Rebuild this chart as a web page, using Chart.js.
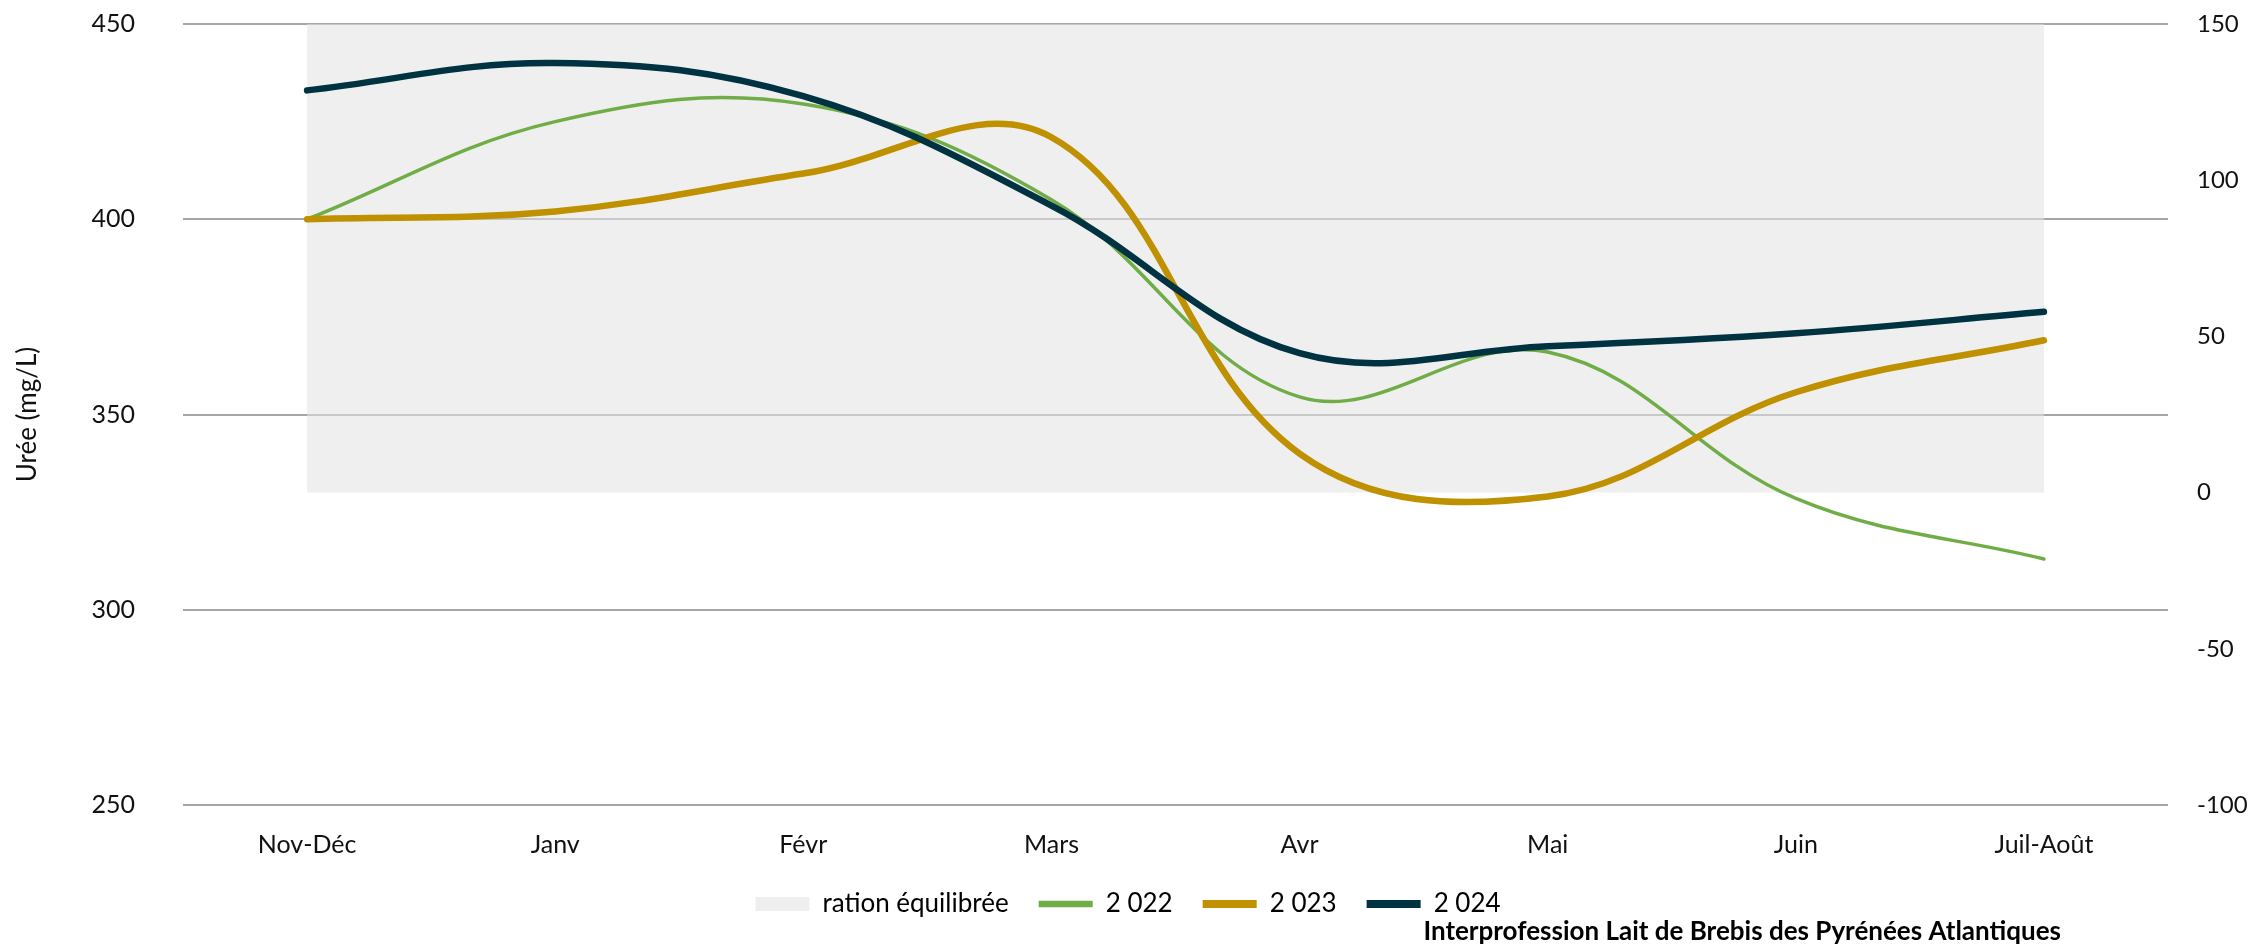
<!DOCTYPE html>
<html>
<head>
<meta charset="utf-8">
<script src="https://cdn.jsdelivr.net/npm/chart.js@4/dist/chart.umd.min.js"></script>
<style>
  html, body { margin: 0; padding: 0; background: #fff; }
  #wrap { width: 2256px; height: 946px; }
</style>
</head>
<body>
<div id="wrap"><canvas id="chart" width="2256" height="946"></canvas></div>
<script>
const MONTHS = ['Nov-Déc', 'Janv', 'Févr', 'Mars', 'Avr', 'Mai', 'Juin', 'Juil-Août'];
const UREE_2022 = [400, 425, 429.5, 405, 354.5, 366, 328.5, 313];
const UREE_2023 = [400, 402, 411.7, 421, 340, 329, 355.7, 369];
const UREE_2024 = [433, 440, 431.5, 403.5, 365.7, 367.5, 370.8, 376.3];
const RATION_EQUILIBREE = [150, 150, 150, 150, 150, 150, 150, 150];

const SOURCE_TEXT = 'Interprofession Lait de Brebis des Pyrénées Atlantiques';
const FONT_FAMILY = 'Lato, "Open Sans", sans-serif';
const TEXT_COLOR = '#111';

const LAYOUT = {
  chartLeft: 183,
  chartRight: 2168,
  xAxisHeight: 56
};

function lineDataset(label, data, color, width, order) {
  return {
    label,
    data,
    yAxisID: 'y',
    borderColor: color,
    backgroundColor: color,
    borderWidth: width,
    borderCapStyle: 'round',
    borderJoinStyle: 'round',
    pointRadius: 0,
    pointStyle: 'line',
    tension: 0.38,
    fill: false,
    order
  };
}

const sourcePlugin = {
  id: 'sourceText',
  afterDraw(chart) {
    const { ctx } = chart;
    ctx.save();
    ctx.font = `bold 26px ${FONT_FAMILY}`;
    ctx.fillStyle = '#000';
    ctx.textAlign = 'right';
    ctx.textBaseline = 'middle';
    ctx.fillText(SOURCE_TEXT, 2061, 932);
    ctx.restore();
  }
};

const ctx = document.getElementById('chart').getContext('2d');

new Chart(ctx, {
  type: 'line',
  data: {
    labels: MONTHS,
    datasets: [
      {
        label: 'ration équilibrée',
        data: RATION_EQUILIBREE,
        yAxisID: 'y1',
        borderWidth: 0,
        borderColor: 'rgba(0,0,0,0)',
        backgroundColor: 'rgba(227,227,227,0.56)',
        pointRadius: 0,
        pointStyle: 'rect',
        tension: 0,
        fill: 'origin',
        order: 10
      },
      lineDataset('2 022', UREE_2022, '#70ad47', 3.5, 3),
      lineDataset('2 023', UREE_2023, '#bf9000', 6.5, 2),
      lineDataset('2 024', UREE_2024, '#003341', 6.5, 1)
    ]
  },
  options: {
    responsive: false,
    animation: false,
    layout: {
      padding: { top: 24, bottom: 19, left: 0, right: 0 }
    },
    scales: {
      x: {
        offset: true,
        grid: { display: false },
        border: { display: false },
        ticks: {
          padding: 17,
          color: TEXT_COLOR,
          font: { family: FONT_FAMILY, size: 25 }
        },
        afterFit(scale) {
          scale.height = LAYOUT.xAxisHeight;
        }
      },
      y: {
        position: 'left',
        min: 250,
        max: 450,
        ticks: {
          stepSize: 50,
          padding: 0,
          color: TEXT_COLOR,
          font: { family: FONT_FAMILY, size: 25 }
        },
        grid: {
          color: '#a6a6a6',
          lineWidth: 2,
          drawTicks: true,
          tickLength: 48,
          tickColor: 'rgba(0,0,0,0)'
        },
        border: { display: false },
        title: {
          display: true,
          text: 'Urée (mg/L)',
          color: TEXT_COLOR,
          padding: { top: 12, bottom: 0 },
          font: { family: FONT_FAMILY, size: 26 }
        },
        afterFit(scale) {
          scale.width = LAYOUT.chartLeft;
        }
      },
      y1: {
        position: 'right',
        min: -100,
        max: 150,
        ticks: {
          stepSize: 50,
          padding: 0,
          color: TEXT_COLOR,
          font: { family: FONT_FAMILY, size: 24 }
        },
        grid: {
          display: true,
          drawOnChartArea: false,
          drawTicks: true,
          tickLength: 29,
          tickColor: 'rgba(0,0,0,0)'
        },
        border: { display: false },
        afterFit(scale) {
          scale.width = 2256 - LAYOUT.chartRight;
        }
      }
    },
    plugins: {
      tooltip: { enabled: false },
      legend: {
        position: 'bottom',
        labels: {
          usePointStyle: true,
          pointStyleWidth: 54,
          boxHeight: 14,
          padding: 30,
          color: '#000',
          font: { family: FONT_FAMILY, size: 26 },
          sort: (a, b) => a.datasetIndex - b.datasetIndex,
          generateLabels(chart) {
            const items = Chart.defaults.plugins.legend.labels.generateLabels(chart);
            items.forEach((item) => {
              if (item.pointStyle === 'line') {
                item.lineWidth = Math.max(item.lineWidth, 5) + 1.5;
              }
            });
            return items;
          }
        }
      }
    }
  },
  plugins: [sourcePlugin]
});
</script>
</body>
</html>
